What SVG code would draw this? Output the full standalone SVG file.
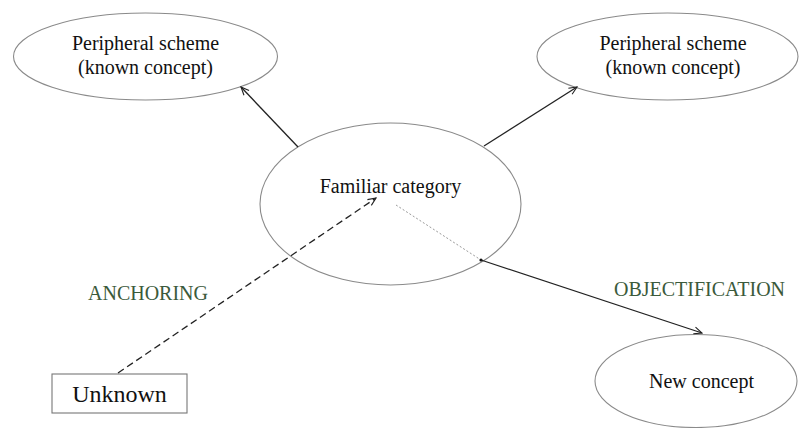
<svg xmlns="http://www.w3.org/2000/svg" width="799" height="428" viewBox="0 0 799 428">
<defs>
<marker id="arr" markerWidth="10" markerHeight="10" refX="9" refY="5" orient="auto" markerUnits="userSpaceOnUse">
<path d="M1,1.5 L9,5 L1,8.5" fill="none" stroke="#222" stroke-width="1.1"/>
</marker>
</defs>
<style>
.node{fill:#fff;stroke:#8a8a8a;stroke-width:1.1}
.t{font-family:"Liberation Serif","Times New Roman",serif;font-size:20px;fill:#111;text-anchor:middle}
.lbl{font-family:"Liberation Serif","Times New Roman",serif;font-size:20px;fill:#3b5a3b;text-anchor:middle}
.edge{fill:none;stroke:#222;stroke-width:1.3}
</style>
<rect width="799" height="428" fill="#fff"/>
<g id="familiar">
<ellipse class="node" cx="390.5" cy="204" rx="130.5" ry="81"/>
<text class="t" x="390.5" y="193">Familiar category</text>
</g>
<g id="peripheral-left">
<ellipse class="node" cx="145.5" cy="56.5" rx="132" ry="43.5"/>
<text class="t" x="145.5" y="50">Peripheral scheme</text>
<text class="t" x="145.5" y="74">(known concept)</text>
</g>
<g id="peripheral-right">
<ellipse class="node" cx="667.5" cy="56.5" rx="130.5" ry="43.5"/>
<text class="t" x="673" y="50">Peripheral scheme</text>
<text class="t" x="673" y="74">(known concept)</text>
</g>
<g id="new-concept">
<ellipse class="node" cx="696" cy="381" rx="101" ry="46.5"/>
<text class="t" x="701.5" y="388">New concept</text>
</g>
<g id="unknown">
<rect x="52" y="374" width="135" height="39" fill="#fff" stroke="#777" stroke-width="1.1"/>
<text class="t" x="119.5" y="402" style="font-size:24px">Unknown</text>
</g>
<g id="labels">
<text class="lbl" x="148" y="300">ANCHORING</text>
<text class="lbl" x="699.5" y="296">OBJECTIFICATION</text>
</g>
<g id="connectors">
<line class="edge" x1="298" y1="147" x2="241" y2="87" marker-end="url(#arr)"/>
<line class="edge" x1="484" y1="146" x2="577" y2="87" marker-end="url(#arr)"/>
<line class="edge" x1="118" y1="373" x2="376" y2="198" stroke-dasharray="7,4" marker-end="url(#arr)"/>
<line x1="396" y1="205" x2="481" y2="260" stroke="#9a9a9a" stroke-width="1" stroke-dasharray="2,2"/>
<circle cx="481" cy="260" r="1.6" fill="#111"/>
<line class="edge" x1="481" y1="260" x2="702" y2="333" marker-end="url(#arr)"/>
</g>
</svg>
